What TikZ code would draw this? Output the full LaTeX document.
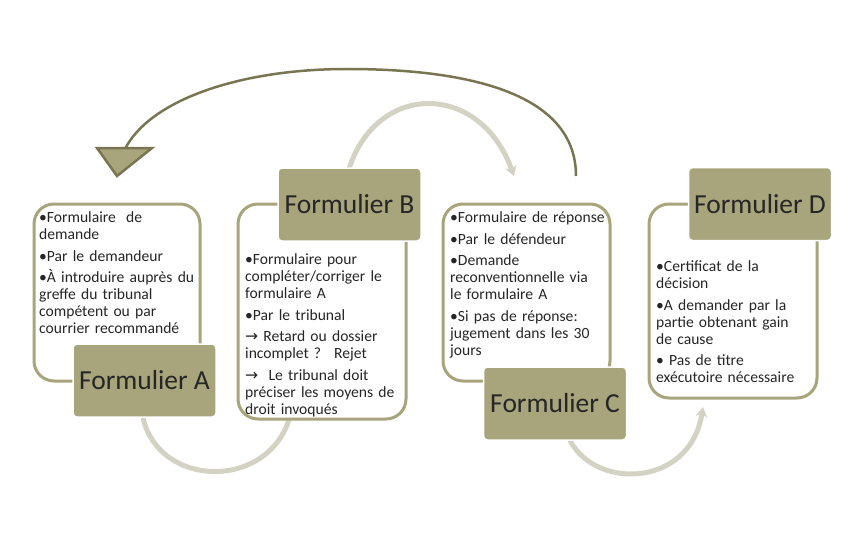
\documentclass[tikz,border=0pt]{standalone}
\usepackage{fontspec}
\usepackage{tikz}
\usetikzlibrary{arrows.meta}
\setmainfont{Carlito}
\newfontfamily\arrowfont{DejaVu Sans}
\definecolor{labfill}{HTML}{A8A47C}
\definecolor{backline}{HTML}{797552}
\definecolor{flowgray}{HTML}{D4D3C3}
\definecolor{labtext}{HTML}{262626}
\newcommand{\itm}[1]{\par\noindent\hangindent=6pt\hangafter=1 •#1}
\newcommand{\arr}[1]{\par\noindent{\arrowfont →}~#1}

\begin{document}
\begin{tikzpicture}[x=1pt,y=-1pt,
    card/.style={draw=labfill, line width=3pt, rounded corners=20pt, fill=white, inner sep=0pt},
    lab/.style={fill=labfill, draw=white, line width=1.5pt, rounded corners=4pt,
      minimum width=143pt, minimum height=73pt, text=labtext,
      font=\fontsize{27.5}{30}\selectfont},
    txt/.style={anchor=base west, inner sep=0pt, text width=178pt, align=left,
      text=labtext, font=\fontsize{15.6}{17}\selectfont,
      execute at begin node={\setlength{\parskip}{4.5pt}}},
    flow/.style={draw=flowgray, line width=5pt, -{Stealth[length=10pt,width=12pt]}},
    back/.style={draw=backline, line width=2.5pt}]
        \useasboundingbox (0,0) rectangle (868,535);

        \coordinate (ab0) at (143,418);  \coordinate (ab1) at (292,408);
        \coordinate (bc0) at (348,172);  \coordinate (bc1) at (514,176);
        \coordinate (cd0) at (568,436);  \coordinate (cd1) at (703,407);
        \coordinate (back0) at (576,176); \coordinate (top) at (347,69);
        \coordinate (back1) at (125,149);

        \draw [flow] (ab0) .. controls (160,490) and (272,490) .. (ab1);
        \draw [flow] (bc0) .. controls (375,81) and (480,81) .. (bc1);
        \draw [flow] (cd0) .. controls (590,490) and (690,490) .. (cd1);

        \draw [back] (back0) .. controls (576,90) and (460,69) .. (top)
                             .. controls (240,69) and (150,100) .. (back1);
        \draw [back, fill=labfill] (97,148) -- (152,148) -- (117,176) -- cycle;

        \node [card, minimum width=166pt, minimum height=177pt] (cardA) at (117,292.5) {};
        \node [card, minimum width=168pt, minimum height=215pt] (cardB) at (322,311.5) {};
        \node [card, minimum width=167pt, minimum height=177pt] (cardC) at (526.5,292.5) {};
        \node [card, minimum width=168pt, minimum height=194pt] (cardD) at (733,301) {};

        \node [lab] (labA) at (144.5,380.5) {Formulier A};
        \node [lab] (labB) at (349.5,204.5) {Formulier B};
        \node [lab] (labC) at (555,403.5)   {Formulier C};
        \node [lab] (labD) at (760,204)     {Formulier D};

        \node [txt] (txtA) at (39,201) {\itm{Formulaire~ de\\demande}\itm{Par le demandeur}%
          \itm{À introduire auprès du\\greffe du tribunal\\compétent ou par\\courrier recommandé}};
        \node [txt] (txtB) at (245,243) {\itm{Formulaire pour\\compléter/corriger le\\formulaire A}%
          \itm{Par le tribunal}\arr{Retard ou dossier\\incomplet ?~ Rejet}%
          \arr{~Le tribunal doit\\préciser les moyens de\\droit invoqués}};
        \node [txt] (txtC) at (450,201) {\itm{Formulaire de réponse}\itm{Par le défendeur}%
          \itm{Demande\\reconventionnelle via\\le formulaire A}%
          \itm{Si pas de réponse:\\jugement dans les 30\\jours}};
        \node [txt] (txtD) at (656,250) {\itm{Certificat de la\\décision}%
          \itm{A demander par la\\partie obtenant gain\\de cause}\itm{ Pas de titre\\exécutoire nécessaire}};
      \end{tikzpicture}
\end{document}
